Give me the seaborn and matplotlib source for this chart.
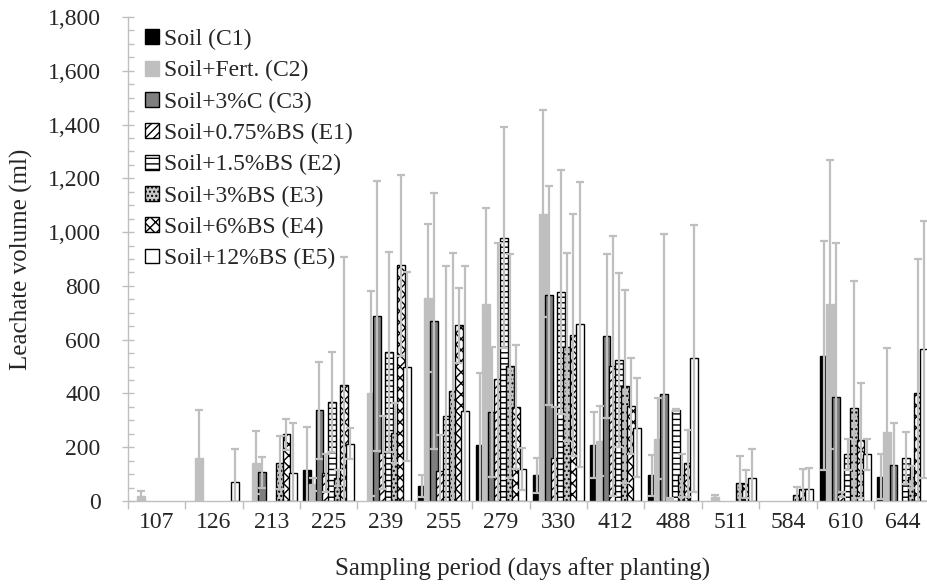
import numpy as np
import pandas as pd
import matplotlib
matplotlib.use("Agg")
import matplotlib.pyplot as plt
from matplotlib.patches import Patch
from matplotlib.ticker import MultipleLocator, FuncFormatter
import seaborn as sns

# Sampling periods (days after planting)
periods = ["107", "126", "213", "225", "239", "255", "279",
           "330", "412", "488", "511", "584", "610", "644"]

treatments = ["Soil (C1)", "Soil+Fert. (C2)", "Soil+3%C (C3)",
              "Soil+0.75%BS (E1)", "Soil+1.5%BS (E2)", "Soil+3%BS (E3)",
              "Soil+6%BS (E4)", "Soil+12%BS (E5)"]

# Mean leachate volume (ml) per treatment
c1 = [0, 0, 0, 114, 0, 55, 207, 95, 208, 95, 0, 0, 541, 90]
c2 = [19, 159, 143, 62, 400, 756, 731, 1068, 223, 232, 16, 0, 731, 258]
c3 = [0, 0, 107, 337, 688, 668, 331, 765, 613, 399, 0, 0, 387, 134]
e1 = [0, 0, 0, 105, 180, 110, 455, 160, 502, 8, 0, 0, 25, 0]
e2 = [0, 0, 0, 369, 554, 318, 979, 777, 524, 338, 0, 0, 173, 159]
e3 = [0, 0, 143, 87, 254, 409, 502, 574, 427, 95, 68, 21, 347, 90]
e4 = [0, 0, 248, 431, 876, 653, 351, 616, 353, 140, 62, 43, 226, 400]
e5 = [0, 69, 105, 213, 499, 335, 120, 657, 273, 530, 84, 43, 173, 564]

# Standard deviations (ml)
c1_sd = [0, 0, 0, 162, 0, 40, 270, 66, 123, 76, 0, 0, 427, 83]
c2_sd = [18, 179, 117, 25, 381, 276, 359, 385, 130, 150, 5, 0, 539, 310]
c3_sd = [0, 0, 57, 180, 502, 476, 243, 408, 306, 595, 0, 0, 573, 155]
e1_sd = [0, 0, 0, 70, 137, 134, 503, 190, 483, 5, 0, 0, 10, 0]
e2_sd = [0, 0, 0, 186, 372, 556, 411, 453, 323, 5, 0, 0, 56, 97]
e3_sd = [0, 0, 99, 30, 112, 512, 415, 349, 359, 80, 99, 32, 471, 40]
e4_sd = [0, 0, 57, 476, 338, 140, 231, 450, 180, 124, 52, 75, 214, 501]
e5_sd = [0, 124, 184, 57, 352, 539, 78, 530, 183, 498, 111, 78, 56, 479]

means = [c1, c2, c3, e1, e2, e3, e4, e5]
sds = [c1_sd, c2_sd, c3_sd, e1_sd, e2_sd, e3_sd, e4_sd, e5_sd]

# Fill, edge and hatch for each treatment
styles = [
    dict(facecolor="#000000", edgecolor="#000000", hatch=None),
    dict(facecolor="#BFBFBF", edgecolor="#BFBFBF", hatch=None),
    dict(facecolor="#7F7F7F", edgecolor="#000000", hatch=None),
    dict(facecolor="#FFFFFF", edgecolor="#000000", hatch="////"),
    dict(facecolor="#FFFFFF", edgecolor="#000000", hatch="---"),
    dict(facecolor="#C8C8C8", edgecolor="#000000", hatch="...."),
    dict(facecolor="#FFFFFF", edgecolor="#000000", hatch="xxx"),
    dict(facecolor="#FFFFFF", edgecolor="#000000", hatch=None),
]

df = pd.DataFrame(
    [(p, t, v) for t, vals in zip(treatments, means) for p, v in zip(periods, vals)],
    columns=["period", "treatment", "volume"],
)

sns.set_style("white")
plt.rcParams["font.family"] = ["Liberation Serif", "DejaVu Serif"]
plt.rcParams["hatch.linewidth"] = 1.0
plt.rcParams["hatch.color"] = "#000000"

fig = plt.figure(figsize=(9.27, 5.87), dpi=100)
ax = fig.add_axes([0.1378, 0.1465, 0.8669, 0.8245])

sns.barplot(data=df, x="period", y="volume", hue="treatment",
            order=periods, hue_order=treatments,
            palette=[s["facecolor"] for s in styles],
            width=0.85, dodge=True, errorbar=None, saturation=1,
            legend=False, ax=ax)

# Bars within a group overlap slightly, each drawn over the previous one
overlap = 1.3
grey = "#BFBFBF"
for cont, st, vals, sd in zip(ax.containers, styles, means, sds):
    xs, ys, es = [], [], []
    for patch, v, e in zip(cont.patches, vals, sd):
        cx = patch.get_x() + patch.get_width() / 2
        w = patch.get_width() * overlap
        patch.set_width(w)
        patch.set_x(cx - w / 2)
        patch.set_facecolor(st["facecolor"])
        patch.set_edgecolor(st["edgecolor"])
        patch.set_linewidth(1.0)
        if st["hatch"]:
            patch.set_hatch(st["hatch"])
        if v > 0:
            xs.append(cx)
            ys.append(v)
            es.append(e)
        else:
            patch.set_visible(False)
    ax.errorbar(xs, ys, yerr=es, fmt="none", ecolor=grey,
                elinewidth=1.6, capsize=2.6, capthick=1.6, zorder=5)

ax.set_ylim(0, 1800)
ax.set_xlim(-0.5, len(periods) - 0.5)
ax.yaxis.set_major_locator(MultipleLocator(200))
ax.yaxis.set_minor_locator(MultipleLocator(50))
ax.yaxis.set_major_formatter(FuncFormatter(lambda v, _: f"{int(v):,}"))
ax.set_xticks(np.arange(-0.5, len(periods), 1), minor=True)

for side in ["top", "right"]:
    ax.spines[side].set_visible(False)
for side in ["left", "bottom"]:
    ax.spines[side].set_color(grey)
    ax.spines[side].set_linewidth(1.0)

ax.tick_params(axis="y", which="major", direction="inout", length=9,
               width=1.0, color=grey, labelsize=17, pad=15, left=True)
ax.tick_params(axis="y", which="minor", direction="in", length=4,
               width=1.0, color=grey, left=True)
ax.tick_params(axis="x", which="major", length=0, labelsize=17, pad=8)
ax.tick_params(axis="x", which="minor", direction="out", length=6,
               width=1.0, color=grey, bottom=True)

ax.set_xlabel("Sampling period (days after planting)", fontsize=18)
ax.set_ylabel("Leachate volume (ml)", fontsize=18)
ax.xaxis.set_label_coords(0.4907, -0.117)
ax.yaxis.set_label_coords(-0.118, 0.5)

handles = [Patch(facecolor=st["facecolor"], edgecolor=st["edgecolor"],
                 hatch=st["hatch"], linewidth=1.0) for st in styles]
fig.legend(handles, treatments, loc="upper left",
           bbox_to_anchor=(145 / 927, 1 - 29 / 587), frameon=False,
           fontsize=17, handlelength=0.6, handleheight=0.6,
           handletextpad=0.2, labelspacing=0.43, borderaxespad=0,
           borderpad=0)

fig.savefig("out.png", dpi=100)
